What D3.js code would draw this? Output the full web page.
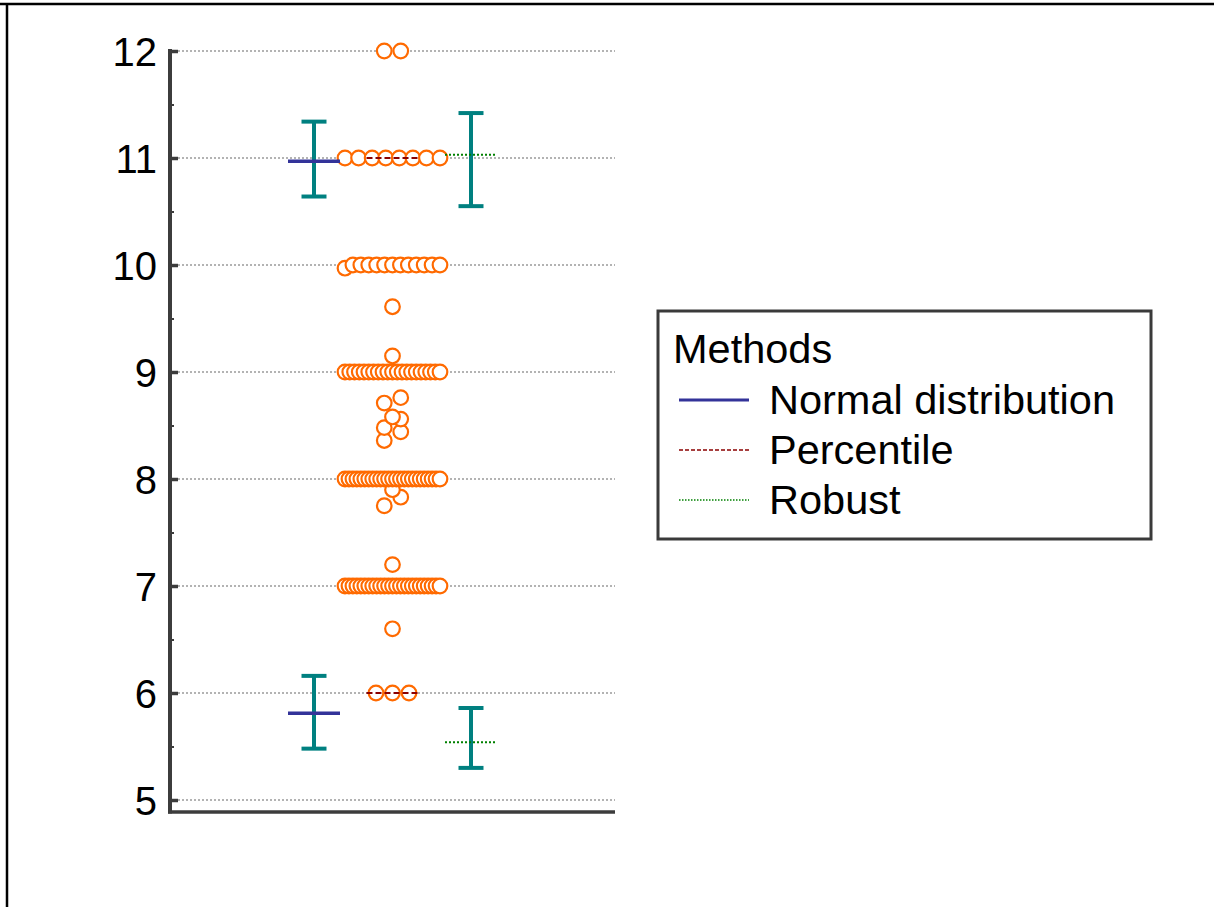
<!DOCTYPE html>
<html>
<head>
<meta charset="utf-8">
<script src="https://cdn.jsdelivr.net/npm/d3@7"></script>
<style>
  html, body { margin: 0; padding: 0; background: #fff; }
  svg { display: block; }
</style>
</head>
<body>
<script>
// Observations: distinct values and how many times each occurs
const obsValues = [6, 6.6, 7, 7.2, 7.75, 7.83, 7.9, 8, 8.36, 8.44, 8.48, 8.56, 8.58, 8.71, 8.76, 9, 9.15, 9.61, 9.97, 10, 11, 12];
const obsCounts = [3, 1, 25, 1, 1, 1, 1, 25, 1, 1, 1, 1, 1, 1, 1, 21, 1, 1, 1, 12, 8, 2];

// Reference limits per method, with confidence intervals (null = not shown)
const methods      = ["Normal distribution", "Percentile", "Robust"];
const lowerLimits  = [5.81, 6.0, 5.54];
const upperLimits  = [10.97, 11.0, 11.03];
const lowerCIFrom  = [5.48, null, 5.30];
const lowerCITo    = [6.16, null, 5.86];
const upperCIFrom  = [10.64, null, 10.55];
const upperCITo    = [11.34, null, 11.42];

const yTicks      = [5, 6, 7, 8, 9, 10, 11, 12];
const yMinorTicks = [5.5, 6.5, 7.5, 8.5, 9.5, 10.5, 11.5];
const legendTitle = "Methods";

const W = 1214, H = 907;
const FONT = "'Liberation Sans', Arial, Helvetica, sans-serif";
const plot = { left: 170, right: 615, bottom: 812 };

const svg = d3.select("body").append("svg")
  .attr("width", W).attr("height", H);

// outer frame (top and left edges)
svg.append("line").attr("x1", 0).attr("x2", W).attr("y1", 4).attr("y2", 4)
  .attr("stroke", "#000").attr("stroke-width", 2.5);
svg.append("line").attr("x1", 7).attr("x2", 7).attr("y1", 3).attr("y2", H)
  .attr("stroke", "#000").attr("stroke-width", 2.5);

const y = d3.scaleLinear().domain([5, 12]).range([800, 51]);
const x = d3.scalePoint().domain(methods).range([314, 471]);

// dotted horizontal gridlines
svg.append("g").selectAll("line").data(yTicks).join("line")
  .attr("x1", plot.left).attr("x2", plot.right)
  .attr("y1", d => y(d)).attr("y2", d => y(d))
  .attr("stroke", "#9a9a9a").attr("stroke-width", 1.5)
  .attr("stroke-dasharray", "2,2");

// y axis: major ticks with labels, pointing into the plot
const yAxis = d3.axisLeft(y).tickValues(yTicks).tickSize(-8).tickPadding(13)
  .tickFormat(d3.format("d"));
const gy = svg.append("g").attr("transform", `translate(${plot.left},0)`).call(yAxis);
gy.select(".domain").remove();
gy.selectAll(".tick line").attr("stroke", "#3c3c3c").attr("stroke-width", 3.5);
gy.selectAll(".tick text")
  .attr("font-family", FONT).attr("font-size", 40).attr("fill", "#000")
  .attr("dy", "0.36em");

// minor ticks
const yMinor = d3.axisLeft(y).tickValues(yMinorTicks).tickSize(-4).tickFormat("");
const gm = svg.append("g").attr("transform", `translate(${plot.left},0)`).call(yMinor);
gm.select(".domain").remove();
gm.selectAll(".tick line").attr("stroke", "#3c3c3c").attr("stroke-width", 2);

// axis lines
svg.append("line").attr("x1", plot.left).attr("x2", plot.left)
  .attr("y1", y(12) - 2).attr("y2", plot.bottom + 1.5)
  .attr("stroke", "#3c3c3c").attr("stroke-width", 4);
svg.append("line").attr("x1", plot.left - 2).attr("x2", plot.right)
  .attr("y1", plot.bottom).attr("y2", plot.bottom)
  .attr("stroke", "#3c3c3c").attr("stroke-width", 3.5);

// ---- dot plot of the observations ----
const points = [];
obsValues.forEach((v, i) => { for (let k = 0; k < obsCounts[i]; k++) points.push(v); });
points.sort(d3.ascending);

// gather values that lie close together into one row, then spread each row sideways
const rowTolerance = 0.09, maxStep = 16.5, spreadWidth = 95;
const rows = [];
let cur = null;
points.forEach(v => {
  if (!cur || v - cur.start > rowTolerance + 1e-9) { cur = { start: v, values: [] }; rows.push(cur); }
  cur.values.push(v);
});
const dots = [];
rows.forEach(r => {
  const n = r.values.length;
  const step = n > 1 ? Math.min(maxStep, spreadWidth / (n - 1)) : 0;
  r.values.forEach((v, j) => dots.push({ value: v, dx: (j - (n - 1) / 2) * step }));
});

const cx = x("Percentile");
svg.append("g").selectAll("circle").data(dots).join("circle")
  .attr("cx", d => cx + d.dx).attr("cy", d => y(d.value)).attr("r", 7.3)
  .attr("fill", "#fff").attr("stroke", "#ff6a00").attr("stroke-width", 2.2);

// ---- confidence intervals ----
const capHalf = 12.5;
const ciData = [];
methods.forEach((m, i) => {
  if (lowerCIFrom[i] != null) ciData.push({ m, lo: lowerCIFrom[i], hi: lowerCITo[i] });
  if (upperCIFrom[i] != null) ciData.push({ m, lo: upperCIFrom[i], hi: upperCITo[i] });
});
const ci = svg.append("g").attr("stroke", "#008080").attr("stroke-width", 4);
ciData.forEach(d => {
  const xc = x(d.m);
  ci.append("line").attr("x1", xc).attr("x2", xc).attr("y1", y(d.lo)).attr("y2", y(d.hi));
  ci.append("line").attr("x1", xc - capHalf).attr("x2", xc + capHalf).attr("y1", y(d.lo)).attr("y2", y(d.lo));
  ci.append("line").attr("x1", xc - capHalf).attr("x2", xc + capHalf).attr("y1", y(d.hi)).attr("y2", y(d.hi));
});

// ---- reference limits, one style per method ----
const styles = {
  "Normal distribution": { color: "#333399", width: 3.5, dash: null },
  "Percentile":          { color: "#8b0000", width: 2,   dash: "6,3" },
  "Robust":              { color: "#008000", width: 2,   dash: "2,2" }
};
const limitHalf = 26;
const limits = [];
methods.forEach((m, i) => {
  limits.push({ m, v: lowerLimits[i] });
  limits.push({ m, v: upperLimits[i] });
});
svg.append("g").selectAll("line").data(limits).join("line")
  .attr("x1", d => x(d.m) - limitHalf).attr("x2", d => x(d.m) + limitHalf)
  .attr("y1", d => y(d.v)).attr("y2", d => y(d.v))
  .attr("stroke", d => styles[d.m].color)
  .attr("stroke-width", d => styles[d.m].width)
  .attr("stroke-dasharray", d => styles[d.m].dash);

// ---- legend ----
const lg = svg.append("g").attr("transform", "translate(658,311)");
lg.append("rect").attr("width", 493).attr("height", 228)
  .attr("fill", "#fff").attr("stroke", "#3a3a3a").attr("stroke-width", 3);
lg.append("text").attr("x", 15).attr("y", 52).text(legendTitle)
  .attr("font-family", FONT).attr("font-size", 41.5).attr("fill", "#000");
const legendStyles = {
  "Normal distribution": { width: 3, dash: null },
  "Percentile":          { width: 1.5, dash: "4,2" },
  "Robust":              { width: 1.5, dash: "1.5,1.5" }
};
methods.forEach((m, i) => {
  const ly = 89 + i * 50;
  lg.append("line").attr("x1", 21).attr("x2", 91).attr("y1", ly).attr("y2", ly)
    .attr("stroke", styles[m].color).attr("stroke-width", legendStyles[m].width)
    .attr("stroke-dasharray", legendStyles[m].dash);
  lg.append("text").attr("x", 111).attr("y", ly + 14).text(m)
    .attr("font-family", FONT).attr("font-size", 41.5).attr("fill", "#000");
});
</script>
</body>
</html>
